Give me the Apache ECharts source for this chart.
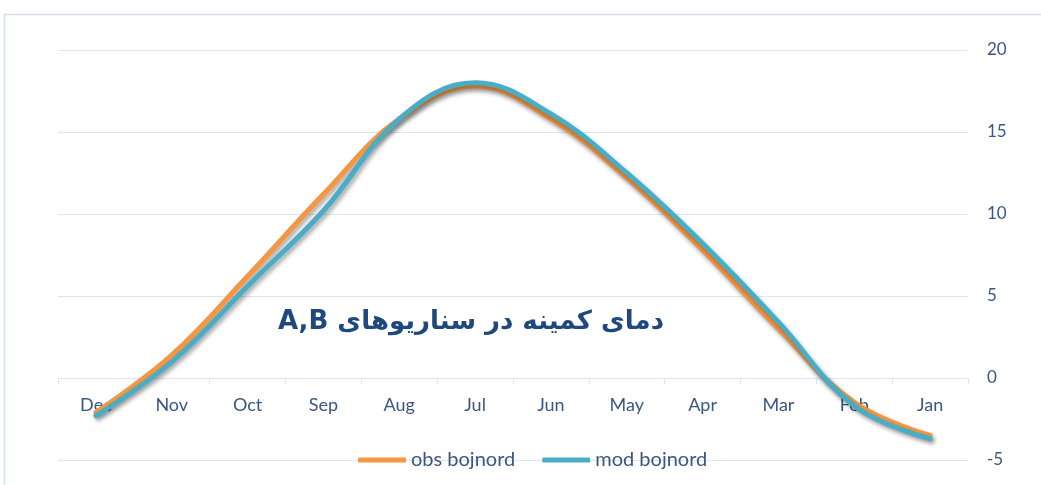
<!DOCTYPE html>
<html>
<head>
<meta charset="utf-8">
<script src="https://cdn.jsdelivr.net/npm/echarts@6/dist/echarts.min.js"></script>
<style>
  html, body { margin: 0; padding: 0; background: #fff; }
  #chart { width: 1041px; height: 485px; }
</style>
</head>
<body>
<div id="chart"></div>
<script>
// months run backwards, like the original sheet
const months = ['Dec', 'Nov', 'Oct', 'Sep', 'Aug', 'Jul', 'Jun', 'May', 'Apr', 'Mar', 'Feb', 'Jan'];
const obsBojnord = [-2.1, 1.4, 6.2, 11.2, 15.8, 17.8, 15.8, 12.2, 7.8, 3.0, -1.5, -3.5];
const modBojnord = [-2.3, 1.0, 5.6, 10.2, 15.8, 18.0, 16.1, 12.5, 8.2, 3.4, -1.7, -3.7];
const yTicks = [-5, 0, 5, 10, 15, 20];

const textColor = '#3a5682';
const gridColor = '#dce6f2';

const myChart = echarts.init(document.getElementById('chart'));

const lineShadow = {
  shadowColor: 'rgba(0,0,0,0.35)',
  shadowBlur: 4,
  shadowOffsetX: 2,
  shadowOffsetY: 3
};

const option = {
  backgroundColor: '#fff',
  animation: false,
  grid: { left: 58, right: 73, top: 50, bottom: 25, outerBoundsMode: 'none', containLabel: false },
  graphic: [
    {
      type: 'rect',
      shape: { x: 4.5, y: 14.5, width: 1100, height: 600 },
      style: { fill: 'none', stroke: '#d5e0f0', lineWidth: 1.5 },
      silent: true
    },
    {
      type: 'text',
      x: 471,
      y: 322,
      style: {
        // RTL embedding so "A,B" sits at the left end, as in the original
        text: '\u202Bدمای کمینه در سناریوهای A,B\u202C',
        fill: '#1f497d',
        font: 'bold 26px "DejaVu Sans", "Noto Sans", sans-serif',
        align: 'center',
        verticalAlign: 'middle'
      },
      z: 10
    }
  ],
  legend: {
    data: ['obs bojnord', 'mod bojnord'],
    left: 358,
    top: 450,
    padding: 0,
    icon: 'roundRect',
    itemWidth: 48,
    itemHeight: 5,
    itemGap: 27,
    textStyle: { color: textColor, fontSize: 20, fontFamily: 'Lato' }
  },
  xAxis: {
    type: 'category',
    data: months,
    boundaryGap: true,
    axisLine: { onZero: true, lineStyle: { color: gridColor, width: 1 } },
    axisTick: { show: true, length: 6, interval: 0, lineStyle: { color: gridColor } },
    // labels sit just under the zero line, not at the bottom of the grid
    axisLabel: { color: textColor, fontSize: 18, fontFamily: 'Lato', margin: -64, interval: 0 },
    splitLine: { show: false }
  },
  yAxis: {
    type: 'value',
    position: 'right',
    min: yTicks[0],
    max: yTicks[yTicks.length - 1],
    interval: 5,
    axisLine: { show: false },
    axisTick: { show: false },
    axisLabel: { color: textColor, fontSize: 17, fontFamily: 'Lato', margin: 19, align: 'left' },
    splitLine: { lineStyle: { color: gridColor, width: 1 } }
  },
  series: [
    {
      name: 'obs bojnord',
      type: 'line',
      data: obsBojnord,
      smooth: 0.4,
      symbol: 'none',
      color: '#f59640',
      lineStyle: Object.assign({ width: 5, color: '#f59640', cap: 'round' }, lineShadow)
    },
    {
      name: 'mod bojnord',
      type: 'line',
      data: modBojnord,
      smooth: 0.4,
      symbol: 'none',
      color: '#4aacc5',
      lineStyle: Object.assign({ width: 5, color: '#4aacc5', cap: 'round' }, lineShadow)
    }
  ]
};

myChart.setOption(option);
</script>
</body>
</html>
